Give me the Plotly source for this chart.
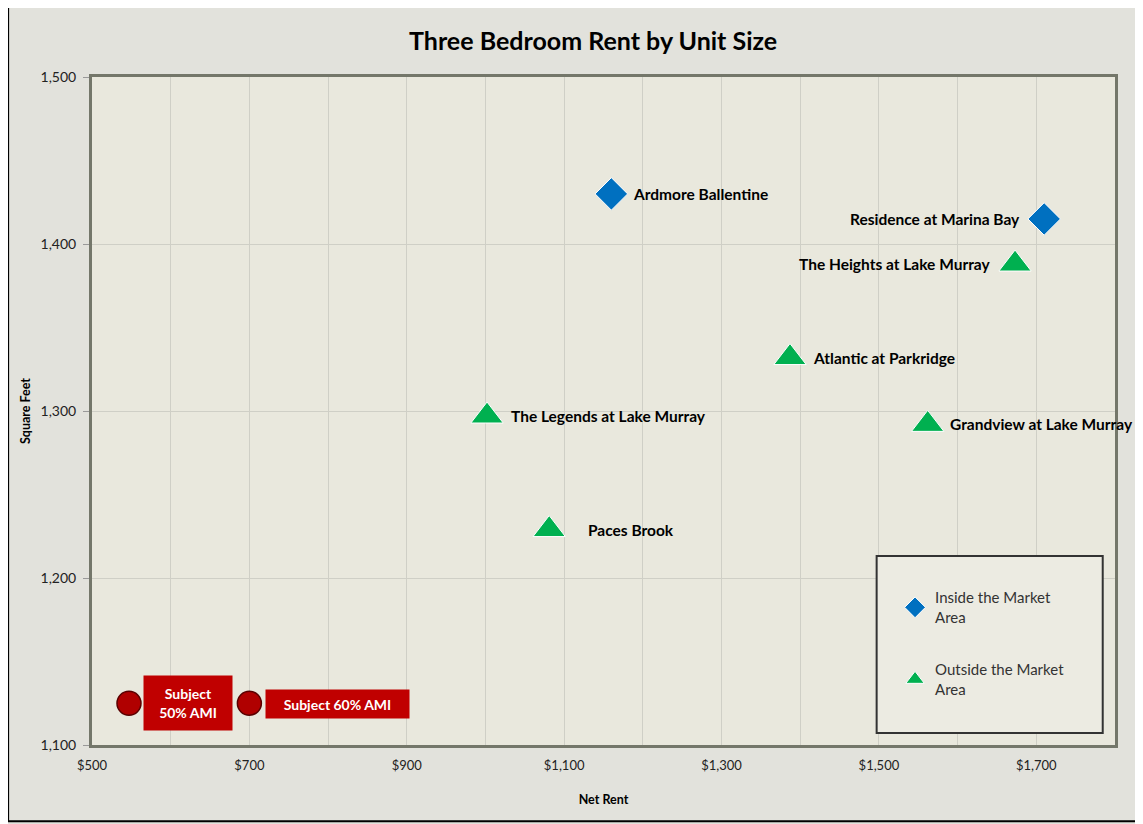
import plotly.graph_objects as go

# Comparable properties
inside_names = ["Ardmore Ballentine", "Residence at Marina Bay"]
inside_rent = [1160, 1710]
inside_sqft = [1430, 1415]

outside_names = ["The Heights at Lake Murray", "Atlantic at Parkridge",
                 "The Legends at Lake Murray", "Grandview at Lake Murray", "Paces Brook"]
outside_rent = [1673, 1387, 1002, 1562, 1081]
outside_sqft = [1388, 1332, 1297, 1292, 1229]

subject_names = ["Subject<br>50% AMI", "Subject 60% AMI"]
subject_rent = [547, 700]
subject_sqft = [1125, 1125]

# label placement (pixel offsets from the point)
label_shift = {
    "Ardmore Ballentine": 20, "Residence at Marina Bay": -22,
    "The Heights at Lake Murray": -22, "Atlantic at Parkridge": 21,
    "The Legends at Lake Murray": 22, "Grandview at Lake Murray": 20,
    "Paces Brook": 37,
}

BLUE = "#0070c0"
GREEN = "#00b050"
RED = "#c00000"
FONT = "Lato, 'Open Sans', sans-serif"

fig = go.Figure()
fig.add_trace(go.Scatter(x=inside_rent, y=inside_sqft, mode="markers",
                         name="Inside the Market<br>Area", legendgroup="in",
                         marker=dict(symbol="diamond", size=25, color=BLUE,
                                     line=dict(color="white", width=1))))
fig.add_trace(go.Scatter(x=outside_rent, y=outside_sqft, mode="markers",
                         name="Outside the Market<br>Area", legendgroup="out",
                         marker=dict(symbol="triangle-up", size=28, color=GREEN,
                                     line=dict(color="white", width=1))))
fig.add_trace(go.Scatter(x=subject_rent, y=subject_sqft, mode="markers",
                         showlegend=False,
                         marker=dict(symbol="circle", size=24, color="#b00000",
                                     line=dict(color="#5a0000", width=1.5))))

for names, xs, ys in [(inside_names, inside_rent, inside_sqft),
                      (outside_names, outside_rent, outside_sqft)]:
    for n, x, y in zip(names, xs, ys):
        s = label_shift[n]
        fig.add_annotation(x=x, y=y, text="<b>%s</b>" % n, showarrow=False,
                           xanchor="left" if s > 0 else "right", xshift=s,
                           font=dict(family=FONT, size=15.5, color="black"))

# subject labels: red boxes
fig.add_annotation(x=subject_rent[0], y=subject_sqft[0], text="<b>%s</b>" % subject_names[0],
                   showarrow=False, xanchor="left", xshift=14, bgcolor=RED,
                   width=80, height=46, borderpad=4,
                   font=dict(family=FONT, size=14, color="white"))
fig.add_annotation(x=subject_rent[1], y=subject_sqft[1], text="<b>%s</b>" % subject_names[1],
                   showarrow=False, xanchor="left", xshift=16, yshift=-1, bgcolor=RED,
                   width=137, height=22, borderpad=3,
                   font=dict(family=FONT, size=14, color="white"))

# outer frame and legend box
fig.add_shape(type="rect", xref="paper", yref="paper", x0=-0.082, x1=1.04,
              y0=-0.114, y1=1.106, line=dict(color="black", width=2), layer="below")
fig.add_shape(type="rect", xref="paper", yref="paper", x0=0.767, x1=0.988,
              y0=0.018, y1=0.283, line=dict(color="#333333", width=2),
              fillcolor="#ecebe2", layer="above")

grid = "#cfcfc6"
fig.update_layout(
    width=1135, height=816,
    margin=dict(l=84, r=28, t=69, b=79),
    paper_bgcolor="#e2e2dc",
    plot_bgcolor="#e9e8dd",
    font=dict(family=FONT, size=13, color="black"),
    title=dict(text="<b>Three Bedroom Rent by Unit Size</b>", x=0.5155, xanchor="center",
               y=1 - 33 / 816, yanchor="middle", font=dict(size=25, color="black")),
    xaxis=dict(range=[500, 1800], tick0=500, dtick=200, tickprefix="$", tickformat=",",
               showgrid=True, gridcolor=grid, gridwidth=1,
               minor=dict(dtick=100, tick0=500, showgrid=True, gridcolor=grid),
               showline=True, linecolor="#74776a", linewidth=3, mirror=True,
               ticks="", zeroline=False, ticklabelstandoff=6,
               title=dict(text="<b>Net Rent</b>", font=dict(size=12.5), standoff=24),
               tickfont=dict(size=13, color="#222")),
    yaxis=dict(range=[1100, 1500], dtick=100, tickformat=",",
               showgrid=True, gridcolor=grid, gridwidth=1,
               showline=True, linecolor="#74776a", linewidth=3, mirror=True,
               ticks="outside", ticklen=6, tickcolor="#999", zeroline=False,
               ticklabelstandoff=4,
               title=dict(text="<b>Square Feet</b>", font=dict(size=12.5), standoff=8),
               tickfont=dict(size=14, color="#222")),
    legend=dict(x=0.785, y=0.245, xanchor="left", yanchor="top",
                bgcolor="rgba(0,0,0,0)", borderwidth=0, traceorder="grouped",
                font=dict(family=FONT, size=15, color="#333"),
                itemsizing="trace", tracegroupgap=30),
)

fig.write_html("out.html")
